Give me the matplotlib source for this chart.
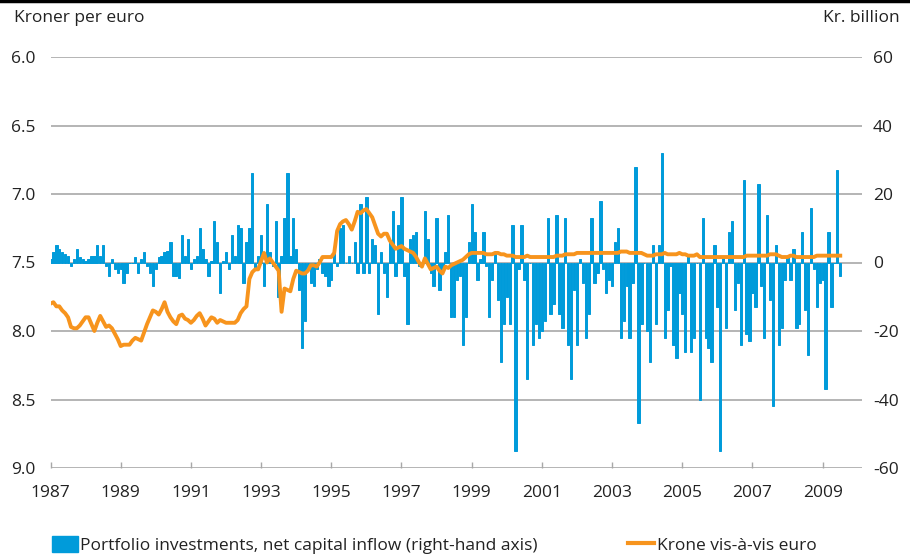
import numpy as np
import matplotlib
matplotlib.use("Agg")
import matplotlib.pyplot as plt
from matplotlib.patches import Patch
from matplotlib.lines import Line2D

# ---- data (monthly, Jan 1987 - Jul 2009) ----
start_year = 1987
portfolio_inflow = [  # Kr. billion, right-hand axis
    1, 3, 5, 4, 3, 2.5, 2, -1, 1, 4, 1.5, 1,                 # 1987
    0.5, 1, 2, 2, 5, 2, 5, -1, -4, 1, -2, -3,                # 1988
    -2, -6, -3, 0, 0, 1.5, -3, 1, 3, -1, -3, -7,             # 1989
    -2, 1.5, 2, 3, 3.5, 6, -4, -4, -4.5, 8, 2, 7,            # 1990
    -2, 1, 2, 10, 4, 1, -4, 0.5, 12, 6, -9, 0.5,             # 1991
    3, -2, 8, 2, 11, 10, -6, 6, 10, 26, -2, 2,               # 1992
    8, -7, 17, 3, -1, 12, -10, 2, 13, 26, 2, 13,             # 1993
    4, -8, -25, -17, -2, -6, -7, -2, 1, -3, -4, -7,          # 1994
    -5, 4, -1, 10, 11, 0, 2, 0, 6, -3, 17, -3,               # 1995
    19, -3, 7, 5, -15, 3, -3, -10, 6, 15, -4, 11,            # 1996
    19, -4, -18, 7, 8, 9, -1, 0, 15, 7, -3, -7,              # 1997
    13, -8, -2, 3, 14, -16, -16, -5, -4, -24, -16, 6,        # 1998
    17, 9, -5, 1, 9, -1, -16, -5, 3, -11, -29, -18,          # 1999
    -10, -18, 11, -55, -2, 11, -5, -34, 0, -24, -18, -22,    # 2000
    -20, -17, 13, -15, -12, 14, -15, -19, 13, -24, -34, -8,  # 2001
    -24, 1, -6, -22, -15, 13, -6, -3, 18, -2, -9, -5,        # 2002
    -7, 6, 10, -22, -17, -7, -22, -6, 28, -47, -18, 0,       # 2003
    -20, -29, 5, -18, 5, 32, -22, -14, -1, -24, -28, -9,     # 2004
    -15, -26, 2, -26, -22, 0, -40, 13, -22, -25, -29, 5,     # 2005
    -13, -55, 2, -19, 9, 12, -14, -6, -24, 24, -21, -23,     # 2006
    -9, -13, 23, -7, -22, 14, -11, -42, 5, -24, -19, -5,     # 2007
    2, -5, 4, -19, -18, 9, -14, -27, 16, -2, -13, -6,        # 2008
    -5, -37, 9, -13, 0, 27, -4,                              # 2009
]
krone_per_euro = [  # left-hand axis (inverted)
    7.80, 7.79, 7.82, 7.82, 7.85, 7.87, 7.90, 7.97, 7.98, 7.98, 7.96, 7.93,
    7.90, 7.90, 7.95, 8.00, 7.94, 7.89, 7.93, 7.97, 7.96, 7.98, 8.02, 8.06,
    8.11, 8.10, 8.10, 8.10, 8.07, 8.05, 8.06, 8.07, 8.01, 7.95, 7.90, 7.85,
    7.86, 7.88, 7.84, 7.79, 7.86, 7.90, 7.93, 7.95, 7.89, 7.88, 7.91, 7.92,
    7.94, 7.92, 7.89, 7.87, 7.91, 7.96, 7.93, 7.90, 7.91, 7.94, 7.92, 7.93,
    7.94, 7.94, 7.94, 7.94, 7.92, 7.87, 7.84, 7.82, 7.62, 7.57, 7.55, 7.55,
    7.49, 7.43, 7.50, 7.47, 7.50, 7.53, 7.56, 7.86, 7.69, 7.70, 7.71, 7.62,
    7.56, 7.57, 7.58, 7.58, 7.56, 7.52, 7.52, 7.53, 7.50, 7.46, 7.46, 7.46,
    7.46, 7.43, 7.27, 7.22, 7.20, 7.19, 7.22, 7.26, 7.20, 7.13, 7.14, 7.12,
    7.11, 7.14, 7.17, 7.23, 7.29, 7.31, 7.29, 7.29, 7.34, 7.37, 7.40, 7.39,
    7.38, 7.40, 7.41, 7.42, 7.43, 7.46, 7.50, 7.53, 7.47, 7.51, 7.55, 7.54,
    7.53, 7.56, 7.58, 7.53, 7.54, 7.52, 7.51, 7.50, 7.49, 7.48, 7.46, 7.44,
    7.43, 7.43, 7.43, 7.43, 7.43, 7.44, 7.44, 7.44, 7.43, 7.43, 7.44, 7.44,
    7.45, 7.45, 7.45, 7.46, 7.46, 7.46, 7.46, 7.45, 7.46, 7.46, 7.46, 7.46,
    7.46, 7.46, 7.46, 7.46, 7.46, 7.45, 7.45, 7.45, 7.44, 7.44, 7.44, 7.44,
    7.43, 7.43, 7.43, 7.43, 7.43, 7.43, 7.43, 7.43, 7.43, 7.43, 7.43, 7.43,
    7.43, 7.43, 7.43, 7.42, 7.42, 7.42, 7.43, 7.43, 7.43, 7.43, 7.43, 7.44,
    7.45, 7.45, 7.45, 7.44, 7.44, 7.44, 7.43, 7.44, 7.44, 7.44, 7.44, 7.43,
    7.44, 7.44, 7.45, 7.45, 7.45, 7.44, 7.46, 7.46, 7.46, 7.46, 7.46, 7.46,
    7.46, 7.46, 7.46, 7.46, 7.46, 7.46, 7.46, 7.46, 7.46, 7.46, 7.45, 7.45,
    7.45, 7.45, 7.45, 7.45, 7.45, 7.45, 7.44, 7.44, 7.44, 7.45, 7.46, 7.46,
    7.46, 7.45, 7.45, 7.46, 7.46, 7.46, 7.46, 7.46, 7.46, 7.46, 7.45, 7.45,
    7.45, 7.45, 7.45, 7.45, 7.45, 7.45, 7.45,
]
year_ticks = list(range(1987, 2010, 2))
left_ticks = [6.0, 6.5, 7.0, 7.5, 8.0, 8.5, 9.0]
right_ticks = [60, 40, 20, 0, -20, -40, -60]

left_title = "Kroner per euro"
right_title = "Kr. billion"
bar_label = "Portfolio investments, net capital inflow (right-hand axis)"
line_label = "Krone vis-\u00e0-vis euro"

# ---- style ----
BLUE = "#009BDA"
ORANGE = "#F7941D"
GRID = "#A8A8A8"
TEXT = "#222222"
FS = 12.5
plt.rcParams["font.family"] = ["Open Sans", "DejaVu Sans"]
plt.rcParams["font.size"] = FS

n = len(portfolio_inflow)
t = start_year + np.arange(n) / 12.0
t_line = start_year + np.arange(len(krone_per_euro)) / 12.0

fig = plt.figure(figsize=(9.10, 5.59), dpi=100)
ax_bar = fig.add_axes([50.5 / 910, 1 - 468 / 559, (862 - 50.5) / 910, (468 - 57) / 559])
ax_line = ax_bar.twinx()

# bars (right-hand axis)
ax_bar.bar(t, portfolio_inflow, width=0.8 / 12, color=BLUE, edgecolor=BLUE,
           linewidth=0.7, align="center", zorder=2)
ax_bar.set_ylim(-60, 60)
ax_bar.set_yticks(right_ticks)
ax_bar.set_yticklabels([str(v) for v in right_ticks])
ax_bar.yaxis.tick_right()
ax_bar.yaxis.grid(True, color=GRID, linewidth=1.2, zorder=0)
ax_bar.set_axisbelow(True)

# line (left-hand axis, inverted)
ax_line.plot(t_line, krone_per_euro, color=ORANGE, linewidth=2.8, zorder=3,
             solid_joinstyle="round")
ax_line.set_ylim(9.0, 6.0)
ax_line.set_yticks(left_ticks)
ax_line.set_yticklabels([f"{v:.1f}" for v in left_ticks])
ax_line.yaxis.tick_left()

ax_bar.set_xlim(start_year, 2010.12)
ax_bar.set_xticks(year_ticks)
ax_bar.set_xticklabels([str(y) for y in year_ticks])

for ax in (ax_bar, ax_line):
    for s in ax.spines.values():
        s.set_visible(False)
    ax.tick_params(axis="y", length=0, colors=TEXT, labelsize=FS)
ax_line.tick_params(axis="y", pad=11)
ax_bar.tick_params(axis="y", pad=8)
ax_bar.tick_params(axis="x", direction="in", length=4, width=1, color=GRID,
                   pad=12, labelcolor=TEXT, labelsize=FS)
ax_line.tick_params(axis="x", length=0, labelbottom=False)

fig.text(14 / 910, 1 - 18 / 559, left_title, ha="left", va="center",
         color=TEXT, fontsize=FS)
fig.text(900 / 910, 1 - 18 / 559, right_title, ha="right", va="center",
         color=TEXT, fontsize=FS)

# top rule
fig.add_artist(Line2D([0, 1], [0.998, 0.998], color="black", linewidth=2.5,
                      transform=fig.transFigure))

handles = [Patch(facecolor=BLUE, edgecolor=BLUE),
           Line2D([0], [0], color=ORANGE, linewidth=3)]
fig.legend(handles, [bar_label, line_label], loc="center left",
           bbox_to_anchor=(43 / 910, 1 - 545 / 559), ncol=2, frameon=False,
           handlelength=1.5, handleheight=1.0, handletextpad=0.15,
           columnspacing=5.2, fontsize=FS, labelcolor=TEXT, borderpad=0)

fig.savefig("out.png", dpi=100)
